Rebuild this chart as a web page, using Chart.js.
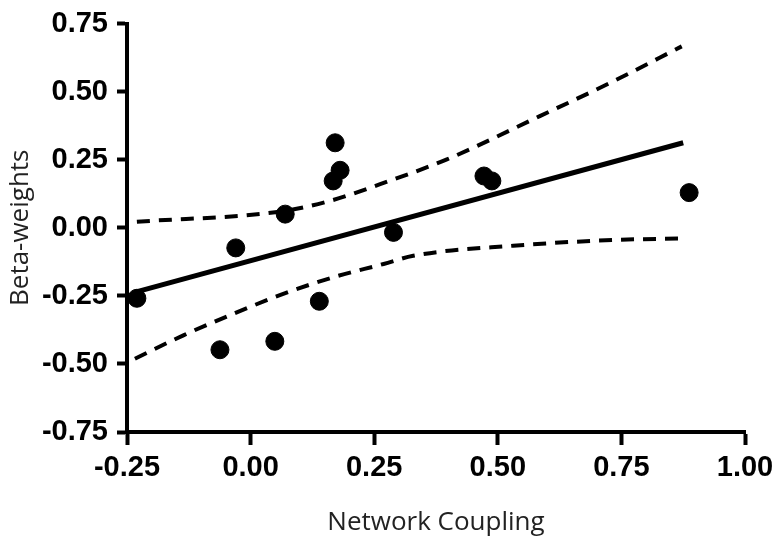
<!DOCTYPE html>
<html>
<head>
<meta charset="utf-8">
<script src="https://cdn.jsdelivr.net/npm/chart.js"></script>
<style>
  html, body { margin: 0; padding: 0; background: #fff; }
  #wrap { width: 782px; height: 538px; position: relative; }
</style>
</head>
<body>
<div id="wrap"><canvas id="chart"></canvas></div>
<script>
// scatter points (network coupling vs beta-weights)
const pointX = [-0.230, -0.062, -0.030, 0.049, 0.070, 0.139, 0.171, 0.167, 0.181, 0.289, 0.472, 0.488, 0.887];
const pointY = [-0.259, -0.448, -0.074, -0.417, 0.050, -0.270, 0.312, 0.172, 0.211, -0.017, 0.190, 0.172, 0.129];

// regression line end points
const fitX = [-0.235, 0.875];
const fitY = [-0.237, 0.312];

// confidence band
const upperX = [-0.230, 0.070, 0.167, 0.262, 0.397, 0.585, 0.734, 0.872];
const upperY = [0.022, 0.062, 0.102, 0.160, 0.251, 0.410, 0.538, 0.666];
const lowerX = [-0.234, -0.136, -0.035, 0.066, 0.167, 0.269, 0.329, 0.531, 0.734, 0.875];
const lowerY = [-0.481, -0.395, -0.316, -0.243, -0.182, -0.133, -0.103, -0.066, -0.045, -0.039];

const xTicks = [-0.25, 0.00, 0.25, 0.50, 0.75, 1.00];
const yTicks = [-0.75, -0.50, -0.25, 0.00, 0.25, 0.50, 0.75];

function pairs(xs, ys) {
    return xs.map((x, i) => ({ x: x, y: ys[i] }));
}

const tickFont = { family: '"Liberation Sans", Arial, sans-serif', size: 29, weight: 'bold', lineHeight: 1.0 };

new Chart(document.getElementById('chart'), {
    type: 'scatter',
    data: {
        datasets: [
            {
                label: 'points',
                data: pairs(pointX, pointY),
                backgroundColor: '#000',
                borderColor: '#000',
                pointRadius: 9,
                pointHoverRadius: 9
            },
            {
                label: 'fit',
                data: pairs(fitX, fitY),
                showLine: true,
                borderColor: '#000',
                borderWidth: 5,
                pointRadius: 0
            },
            {
                label: 'upper',
                data: pairs(upperX, upperY),
                showLine: true,
                borderColor: '#000',
                borderWidth: 4,
                borderDash: [13, 9],
                cubicInterpolationMode: 'monotone',
                pointRadius: 0
            },
            {
                label: 'lower',
                data: pairs(lowerX, lowerY),
                showLine: true,
                borderColor: '#000',
                borderWidth: 4,
                borderDash: [13, 9],
                cubicInterpolationMode: 'monotone',
                pointRadius: 0
            }
        ]
    },
    options: {
        responsive: true,
        maintainAspectRatio: false,
        animation: false,
        layout: { padding: { top: 21, right: 37, bottom: 0, left: 0 } },
        plugins: {
            legend: { display: false },
            tooltip: { enabled: false }
        },
        scales: {
            x: {
                type: 'linear',
                min: -0.25,
                max: 1.0,
                afterFit: (scale) => { scale.height = 106; },
                afterBuildTicks: (scale) => { scale.ticks = xTicks.map(v => ({ value: v })); },
                border: { display: true, color: '#000', width: 4 },
                grid: { drawOnChartArea: false, drawTicks: true, tickLength: 13, tickWidth: 4, tickColor: '#000' },
                ticks: {
                    color: '#000',
                    font: tickFont,
                    padding: 8,
                    maxRotation: 0,
                    callback: (v) => v.toFixed(2)
                },
                title: {
                    display: true,
                    text: 'Network Coupling',
                    color: '#222',
                    font: { family: '"Open Sans", sans-serif', size: 26 },
                    padding: { top: 4, bottom: 0 }
                }
            },
            y: {
                type: 'linear',
                min: -0.75,
                max: 0.75,
                afterFit: (scale) => { scale.width = 127; },
                afterBuildTicks: (scale) => { scale.ticks = yTicks.map(v => ({ value: v })); },
                border: { display: true, color: '#000', width: 4 },
                grid: { drawOnChartArea: false, drawTicks: true, tickLength: 10, tickWidth: 4, tickColor: '#000' },
                ticks: {
                    color: '#000',
                    font: tickFont,
                    padding: 9,
                    callback: (v) => v.toFixed(2)
                },
                title: {
                    display: true,
                    text: 'Beta-weights',
                    color: '#222',
                    font: { family: '"Open Sans", sans-serif', size: 26 },
                    padding: { top: 5, bottom: 0 }
                }
            }
        }
    }
});
</script>
</body>
</html>
